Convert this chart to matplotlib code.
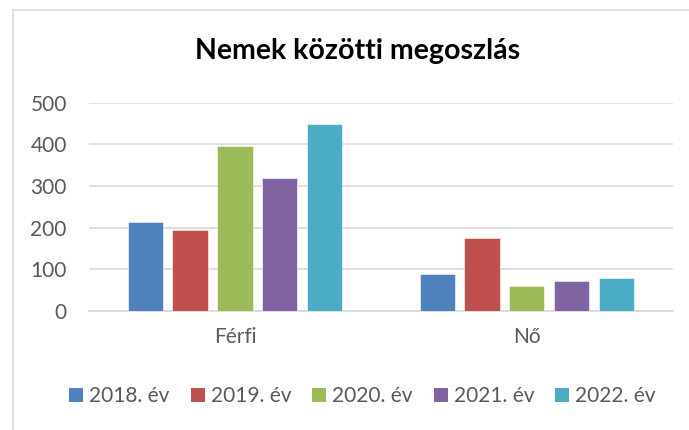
import numpy as np
import matplotlib.pyplot as plt
from matplotlib.patches import Patch
from matplotlib.lines import Line2D

plt.rcParams['font.family'] = ['Lato', 'DejaVu Sans']

categories = ['Férfi', 'Nő']
years = ['2018. év', '2019. év', '2020. év', '2021. év', '2022. év']
values = {
    '2018. év': [214, 88],
    '2019. év': [195, 174],
    '2020. év': [397, 59],
    '2021. év': [320, 71],
    '2022. év': [448, 78],
}
colors = ['#4F81BD', '#C0504D', '#9BBB59', '#8064A2', '#4BACC6']

W, H = 689, 430
fig = plt.figure(figsize=(W / 100, H / 100), dpi=100)

# axes placed in pixel coords
left, right, bottom, top = 89, 672.7, 310.7, 102.7
ax = fig.add_axes([left / W, 1 - bottom / H, (right - left) / W, (bottom - top) / H])

x = np.arange(len(categories))
pitch = 0.1535
width = 0.121
for i, (yr, c) in enumerate(zip(years, colors)):
    ax.bar(x + (i - 2) * pitch, values[yr], width, color=c,
           edgecolor='white', linewidth=0.4, zorder=3, label=yr)

ax.set_xlim(-0.5, 1.5)
ax.set_ylim(0, 500)
ax.set_yticks(range(0, 501, 100))
ax.set_xticks(x)
ax.set_xticklabels(categories)
ax.yaxis.grid(True, color='#d9d9d9', linewidth=1.2, zorder=0)
for s in ['left', 'right', 'top']:
    ax.spines[s].set_visible(False)
ax.spines['bottom'].set_color('#d9d9d9')
ax.spines['bottom'].set_linewidth(1.2)
ax.tick_params(axis='both', length=0, labelsize=15, labelcolor='#595959')
ax.tick_params(axis='y', pad=16)
ax.tick_params(axis='x', pad=12)

fig.text(357.5 / W, 1 - 59.3 / H, 'Nemek közötti megoszlás', ha='center', va='baseline',
         fontsize=20.5, fontweight='bold', color='black')

handles = [Patch(facecolor=c, edgecolor='none') for c in colors]
fig.legend(handles, years, loc='center', bbox_to_anchor=(362.5 / W, 1 - 396 / H),
           ncol=5, frameon=False, fontsize=15, labelcolor='#595959',
           handlelength=0.67, handleheight=0.67, handletextpad=0.3, columnspacing=1.0)

# chart area border (only top and left are visible in the reference)
fig.add_artist(Line2D([12.5 / W, 1], [1 - 10 / H, 1 - 10 / H], color='#d9d9d9', lw=1.2))
fig.add_artist(Line2D([12.5 / W, 12.5 / W], [0, 1 - 10 / H], color='#d9d9d9', lw=1.2))

fig.savefig('out.png', dpi=100, facecolor='white')
